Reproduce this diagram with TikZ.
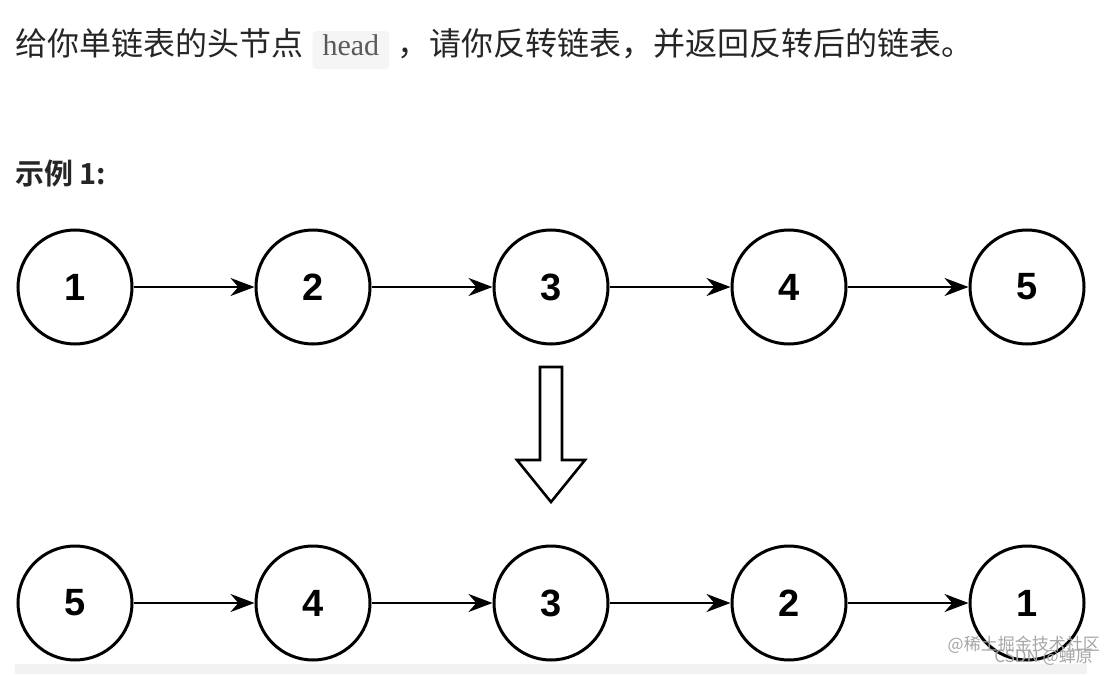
\documentclass[tikz,border=0pt]{standalone}
\usepackage{fontspec}
\setmainfont{Liberation Sans}
\newfontfamily\cjk{Noto Sans CJK SC}
\newfontfamily\cjkb{Noto Sans CJK SC Bold}
\newfontfamily\codefont{Liberation Serif}
\usetikzlibrary{arrows.meta}
\definecolor{txt}{HTML}{262626}
\begin{document}
\begin{tikzpicture}[x=1pt,y=-1pt,
  ln/.style={circle,draw=black,line width=3pt,minimum size=114pt,inner sep=0pt,font=\fontsize{38}{38}\selectfont\bfseries},
  lnk/.style={line width=2.6pt,-{Stealth[length=24pt,width=18pt]}},
  body/.style={inner sep=0pt,anchor=base west,text=txt,font=\cjk\fontsize{32}{32}\selectfont}]
\useasboundingbox (0,0) rectangle (1115,674);
\fill[white] (0,0) rectangle (1115,674);
\node[body] (t1) at (15,56) {给你单链表的头节点};
\node[inner sep=0pt,anchor=base west,fill=gray!8,rounded corners=4pt,minimum height=38pt,text depth=9pt,inner xsep=10pt,text=black!65,font=\codefont\fontsize{30}{30}\selectfont] (code) at ([xshift=9pt]t1.base east) {head};
\node[body] (t2) at ([xshift=8pt]code.base east) {，请你反转链表，并返回反转后的链表。};
\node[body,font=\cjkb\fontsize{29}{29}\selectfont] (ex) at (15,184) {示例 1:};
\foreach \n/\x in {1/75,2/313,3/551,4/789,5/1027}{\node[ln] (a\n) at (\x,287) {\n};}
\foreach \n/\l/\x in {1/5/75,2/4/313,3/3/551,4/2/789,5/1/1027}{\node[ln] (b\n) at (\x,603) {\l};}
\foreach \i/\j in {1/2,2/3,3/4,4/5}{\draw[lnk] (a\i) -- (a\j); \draw[lnk] (b\i) -- (b\j);}
\draw[line width=2.6pt,fill=white,line join=miter] (540,367) -- (562,367) -- (562,460) -- (585,460) -- (551,502) -- (517,460) -- (540,460) -- cycle;
\fill[gray!10] (15,664) rectangle (1087,674);
\node[inner sep=0pt,anchor=east,text=gray!70,font=\cjk\fontsize{17}{17}\selectfont] (wm1) at (1100,645) {@稀土掘金技术社区};
\node[inner sep=0pt,anchor=east,text=gray!70,font=\cjk\fontsize{17}{17}\selectfont] (wm2) at (1093,657) {CSDN @蝉原};
\end{tikzpicture}
\end{document}
